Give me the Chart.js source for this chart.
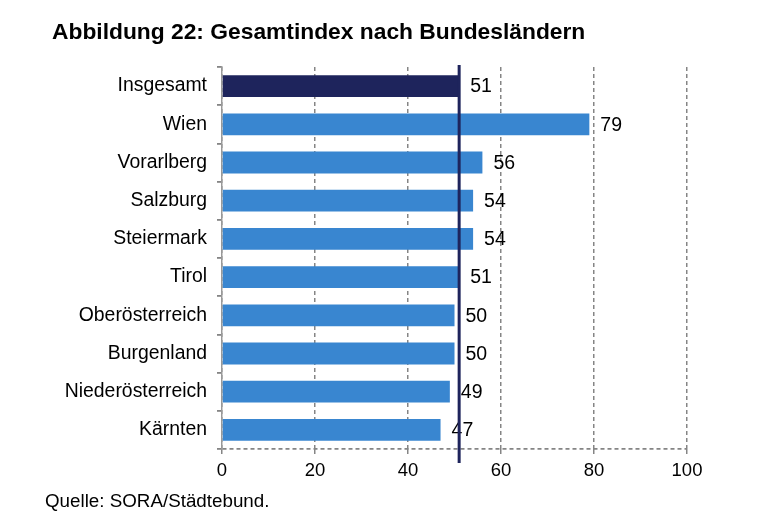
<!DOCTYPE html>
<html><head><meta charset="utf-8">
<script src="https://cdn.jsdelivr.net/npm/chart.js@4/dist/chart.umd.min.js"></script>
<style>
html,body{margin:0;padding:0;background:#fff;width:768px;height:527px;overflow:hidden;font-family:"Liberation Sans",Arial,sans-serif;}
#wrap{position:relative;width:768px;height:527px;}
canvas{position:absolute;left:0;top:0;}
#title{position:absolute;left:52px;top:20px;font-weight:bold;font-size:22.8px;line-height:23px;color:#000;white-space:nowrap;}
#source{position:absolute;left:45px;top:491px;font-size:18.8px;line-height:19px;color:#000;white-space:nowrap;}
</style></head>
<body>
<div id="wrap">
<canvas id="c" width="768" height="527"></canvas>
<div id="title">Abbildung 22: Gesamtindex nach Bundesländern</div>
<div id="source">Quelle: SORA/Städtebund.</div>
</div>
<script>
const categories = ["Insgesamt","Wien","Vorarlberg","Salzburg","Steiermark","Tirol","Oberösterreich","Burgenland","Niederösterreich","Kärnten"];
const values = [51, 79, 56, 54, 54, 51, 50, 50, 49, 47];
const xTicks = [0, 20, 40, 60, 80, 100];
const referenceValue = values[0];

const barColors = categories.map((c, i) => i === 0 ? '#1e245c' : '#3986d0');
const GRID = '#858585';
const FONT = '"Liberation Sans", Arial, sans-serif';

const valueLabels = {
  id: 'valueLabels',
  afterDatasetsDraw(chart) {
    const ctx = chart.ctx;
    const meta = chart.getDatasetMeta(0);
    ctx.save();
    ctx.font = '19.5px ' + FONT;
    ctx.fillStyle = '#000';
    ctx.textBaseline = 'middle';
    ctx.textAlign = 'left';
    meta.data.forEach((bar, i) => {
      ctx.fillText(String(values[i]), bar.x + 11, bar.y + 1);
    });
    ctx.restore();
  }
};

const refLine = {
  id: 'refLine',
  afterDraw(chart) {
    const ctx = chart.ctx;
    const x = chart.scales.x.getPixelForValue(referenceValue);
    const { top, bottom } = chart.chartArea;
    ctx.save();
    ctx.strokeStyle = '#1e245c';
    ctx.lineWidth = 3;
    ctx.beginPath();
    ctx.moveTo(x, top - 2);
    ctx.lineTo(x, bottom + 14);
    ctx.stroke();
    ctx.restore();
  }
};

new Chart(document.getElementById('c'), {
  type: 'bar',
  data: {
    labels: categories,
    datasets: [{
      data: values,
      backgroundColor: barColors,
      borderWidth: 0,
      categoryPercentage: 1,
      barPercentage: 0.57
    }]
  },
  options: {
    indexAxis: 'y',
    responsive: false,
    animation: false,
    devicePixelRatio: 1,
    layout: { padding: { left: 0, top: 67, right: 81, bottom: 38 } },
    plugins: { legend: { display: false }, tooltip: { enabled: false }, title: { display: false } },
    scales: {
      x: {
        type: 'linear',
        min: 0, max: 100,
        afterBuildTicks(scale) { scale.ticks = xTicks.map(v => ({ value: v })); },
        afterFit(scale) { scale.height = 40; },
        ticks: { font: { size: 18.5, family: FONT }, color: '#000', padding: 6, maxRotation: 0 },
        grid: { color: GRID, lineWidth: 1.5, drawTicks: true, tickLength: 5, tickColor: GRID },
        border: { display: false, dash: [4, 3] }
      },
      y: {
        afterFit(scale) { scale.width = 222; },
        ticks: { font: { size: 19.4, family: FONT }, color: '#000', padding: 10 },
        grid: {
          drawOnChartArea: true,
          color: ctx => (ctx.index === undefined || ctx.index === categories.length) ? GRID : 'rgba(0,0,0,0)',
          lineWidth: 1.8,
          tickLength: 5,
          tickColor: GRID
        },
        border: { display: true, color: '#999', width: 1.5, dash: [4, 3] }
      }
    }
  },
  plugins: [valueLabels, refLine]
});
</script>
</body></html>
